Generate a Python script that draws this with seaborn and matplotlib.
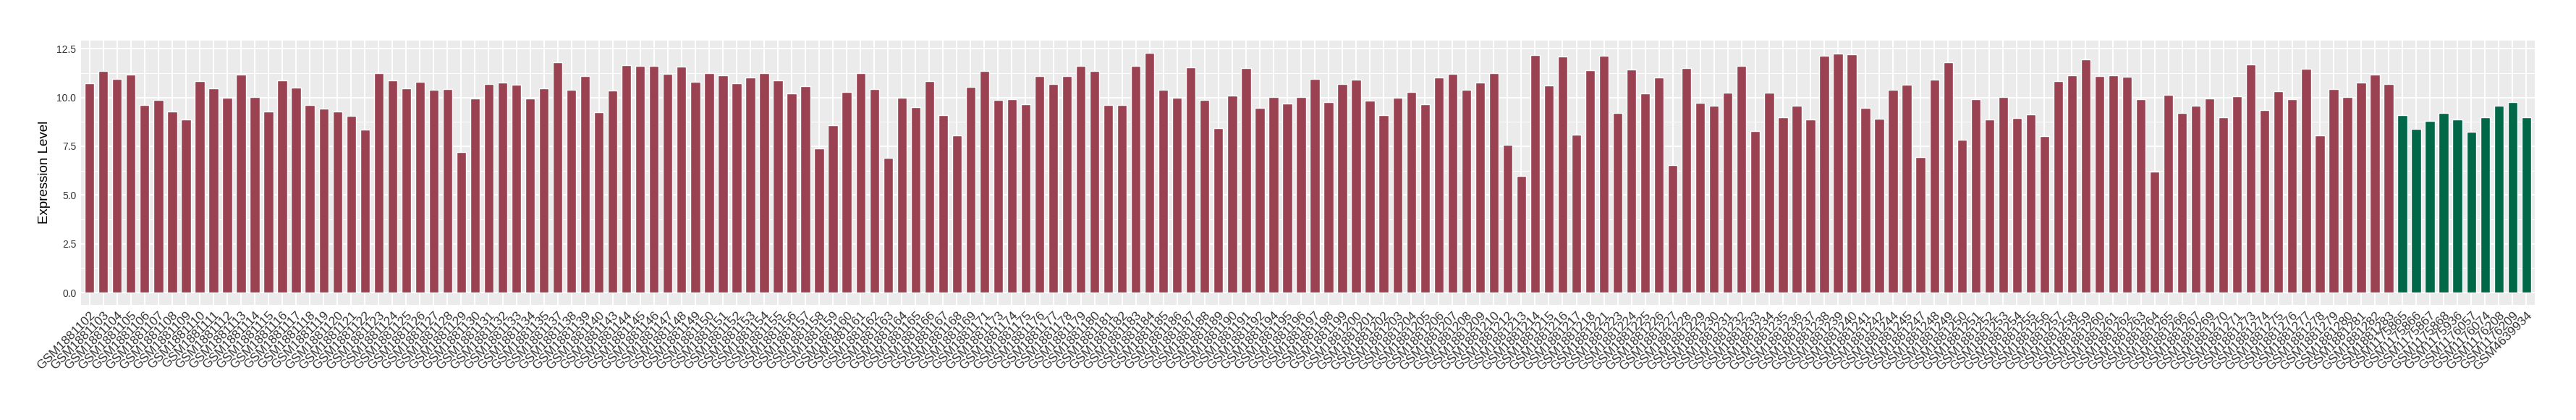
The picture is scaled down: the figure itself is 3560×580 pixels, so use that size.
import matplotlib
matplotlib.use("Agg")
import matplotlib.pyplot as plt
import seaborn as sns
import pandas as pd
import numpy as np

# -------------------------------
# Data
# -------------------------------
case_ids = [
    102, 103, 104, 105, 106, 107, 108, 109, 110, 111, 112, 113, 114, 115, 116, 117, 118,
    119, 120, 121, 122, 123, 124, 125, 126, 127, 128, 129, 130, 131, 132, 133, 134, 135,
    137, 138, 139, 140, 143, 144, 145, 146, 147, 148, 149, 150, 151, 152, 153, 154, 155,
    156, 157, 158, 159, 160, 161, 162, 163, 164, 165, 166, 167, 168, 169, 171, 173, 174,
    175, 176, 177, 178, 179, 180, 181, 182, 183, 184, 185, 186, 187, 188, 189, 190, 191,
    192, 194, 195, 196, 197, 198, 199, 200, 201, 202, 203, 204, 205, 206, 207, 208, 209,
    210, 212, 213, 214, 215, 216, 217, 218, 221, 223, 224, 225, 226, 227, 228, 229, 230,
    231, 232, 233, 234, 235, 236, 237, 238, 239, 240, 241, 242, 244, 245, 247, 248, 249,
    250, 251, 252, 253, 254, 255, 256, 257, 258, 259, 260, 261, 262, 263, 264, 265, 266,
    267, 269, 270, 271, 273, 274, 275, 276, 277, 278, 279, 280, 281, 282, 283,
]
case_samples = ["GSM1881%03d" % i for i in case_ids]

case_values = [
    10.73, 11.37, 10.94, 11.19, 9.60, 9.86, 9.28, 8.86, 10.83, 10.47, 9.97, 11.19, 10.03, 9.28, 10.86, 10.51, 9.60,
    9.43, 9.28, 9.07, 8.35, 11.26, 10.86, 10.47, 10.79, 10.39, 10.43, 7.20, 9.94, 10.69, 10.75, 10.65, 9.94, 10.47,
    11.81, 10.39, 11.09, 9.24, 10.36, 11.66, 11.62, 11.62, 11.22, 11.58, 10.79, 11.26, 11.15, 10.73, 11.01, 11.26, 10.86,
    10.22, 10.58, 7.37, 8.56, 10.29, 11.26, 10.43, 6.91, 9.97, 9.50, 10.83, 9.11, 8.07, 10.54, 11.37, 9.86, 9.90,
    9.64, 11.09, 10.69, 11.11, 11.62, 11.34, 9.60, 9.60, 11.62, 12.30, 10.39, 9.97, 11.55, 9.86, 8.42, 10.11, 11.51,
    9.46, 10.03, 9.68, 10.03, 10.94, 9.75, 10.69, 10.90, 9.82, 9.11, 10.00, 10.29, 9.64, 11.01, 11.22, 10.39, 10.75,
    11.26, 7.59, 5.97, 12.17, 10.62, 12.09, 8.10, 11.41, 12.13, 9.22, 11.45, 10.22, 11.01, 6.55, 11.51, 9.71, 9.58,
    10.26, 11.62, 8.28, 10.26, 8.99, 9.58, 8.86, 12.13, 12.23, 12.20, 9.46, 8.92, 10.39, 10.65, 6.95, 10.90, 11.81,
    7.84, 9.90, 8.86, 10.03, 8.96, 9.14, 8.03, 10.83, 11.15, 11.94, 11.09, 11.15, 11.05, 9.90, 6.19, 10.15, 9.22,
    9.58, 9.94, 8.99, 10.07, 11.69, 9.35, 10.33, 9.90, 11.47, 8.07, 10.43, 10.03, 10.75, 11.19, 10.69,
]

control_samples = [
    "GSM1175865", "GSM1175866", "GSM1175867", "GSM1175868", "GSM1175936",
    "GSM1176057", "GSM1176074", "GSM1176208", "GSM1176209", "GSM4639934",
]
control_values = [9.11, 8.39, 8.78, 9.22, 8.88, 8.24, 8.99, 9.58, 9.75, 8.99]

group_colors = {"case": "#9A4251", "control": "#006747"}

df = pd.DataFrame({
    "sample": case_samples + control_samples,
    "value": case_values + control_values,
    "group": ["case"] * len(case_samples) + ["control"] * len(control_samples),
})
n = len(df)

# -------------------------------
# Style (ggplot-like grey panel)
# -------------------------------
sns.set_theme(style="darkgrid", rc={
    "axes.facecolor": "#EBEBEB",
    "grid.color": "white",
    "axes.edgecolor": "white",
})
plt.rcParams["font.family"] = ["Liberation Sans", "DejaVu Sans"]

fig = plt.figure(figsize=(35.6, 5.8), dpi=100)
ax = fig.add_axes([0.03155, 0.2747, 0.98390 - 0.03155, 0.9034 - 0.2747])

sns.barplot(
    data=df, x="sample", y="value", hue="group",
    palette=group_colors, dodge=False, width=0.7,
    saturation=1, legend=False, ax=ax, zorder=3,
)

ax.set_xlim(-0.6, n - 1 + 0.6)
ax.set_ylim(-0.615, 12.915)

ax.set_yticks([0, 2.5, 5.0, 7.5, 10.0, 12.5])
ax.set_yticklabels(["0.0", "2.5", "5.0", "7.5", "10.0", "12.5"])
ax.set_yticks([1.25, 3.75, 6.25, 8.75, 11.25], minor=True)

ax.grid(which="major", color="white", linewidth=1.4, zorder=0)
ax.grid(which="minor", axis="y", color="white", linewidth=0.7, zorder=0)
ax.set_axisbelow(True)

for s in ax.spines.values():
    s.set_visible(False)

ax.tick_params(axis="both", which="major", length=3, width=1, color="#333333",
               labelcolor="#333333", pad=2)
ax.tick_params(axis="y", which="major", labelsize=10)
ax.tick_params(axis="both", which="minor", length=0)

plt.setp(ax.get_xticklabels(), rotation=45, ha="right", va="top",
         rotation_mode="anchor", fontsize=12.5)

ax.set_xlabel("")
ax.set_ylabel("Expression Level", fontsize=13.5, color="black", labelpad=6)

fig.savefig("out.png", dpi=100)
plt.close(fig)
